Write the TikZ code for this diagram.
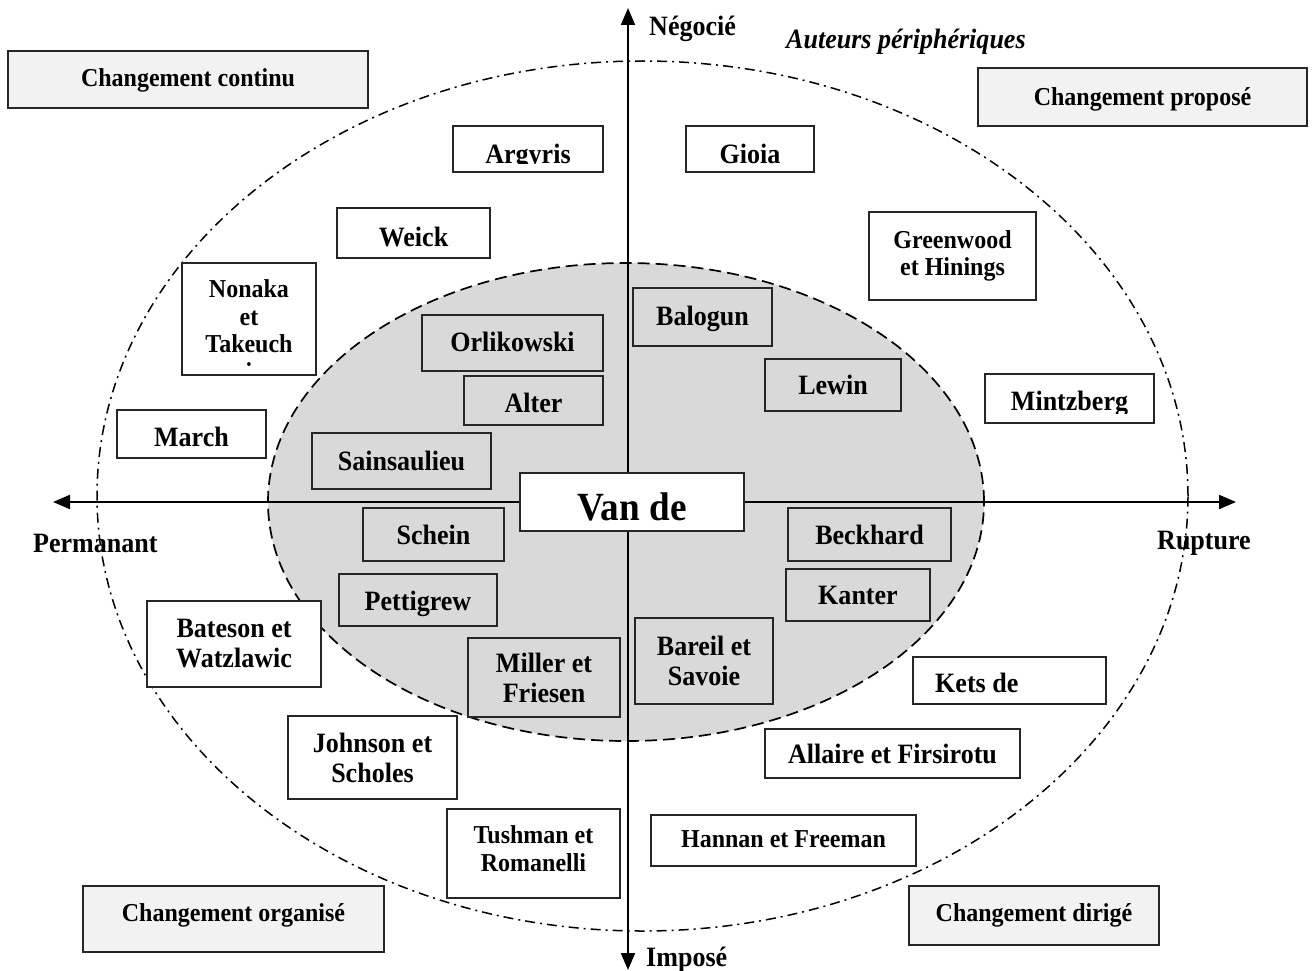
\documentclass[tikz,border=0pt]{standalone}
\usepackage{fontspec}
\setmainfont{Liberation Serif}[FakeStretch=0.93]
\usetikzlibrary{arrows.meta}
\definecolor{boxline}{HTML}{262626}
\definecolor{ingray}{HTML}{D9D9D9}
\definecolor{light}{HTML}{F2F2F2}
\begin{document}
\begin{tikzpicture}[x=1pt,y=-1pt,
  box/.style={draw=boxline, line width=1.6pt, inner sep=0pt, align=center,
    font=\fontsize{28}{30}\selectfont\bfseries},
  wbox/.style={box, fill=white},
  gbox/.style={box, fill=ingray},
  cbox/.style={box, fill=light, font=\fontsize{25.8}{27.5}\selectfont\bfseries},
  small/.style={font=\fontsize{25.8}{27.5}\selectfont\bfseries},
  one/.style={text height=#1, text depth=0pt}, one/.default=18pt,
  sz/.style 2 args={minimum width=#1pt, minimum height=#2pt},
  lab/.style={inner sep=0pt, font=\fontsize{28}{30}\selectfont\bfseries},
  axisline/.style={line width=2pt, black},
  tip/.tip={Triangle[length=17pt,width=14pt]},
  outerline/.style={line width=1.5pt, dash pattern=on 10pt off 5pt on 2pt off 5pt},
  innerline/.style={line width=1.7pt, dash pattern=on 12pt off 6pt}]
\useasboundingbox[fill=white] (0,0) rectangle (1314,971);
% ellipses
\draw[outerline] (642.5,496) ellipse [x radius=545.5pt, y radius=435pt];
\draw[innerline, fill=ingray] (626,502) ellipse [x radius=358pt, y radius=239pt];
% axes
\coordinate (top) at (628,8);
\coordinate (bot) at (628,970);
\coordinate (lft) at (53,502);
\coordinate (rgt) at (1236,502);
\draw[axisline, tip-tip] (bot) -- (top);
\draw[axisline, tip-tip] (lft) -- (rgt);
% corner boxes
\node[cbox, sz={360}{57}, one=15pt] (cc) at (188,79.5) {Changement continu};
\node[cbox, sz={329}{58}, one=18pt] (cp) at (1142.5,97) {Changement propos\'e};
\node[cbox, sz={301}{66}, one=4pt] (co) at (233.5,919) {Changement organis\'e};
\node[cbox, sz={250}{59}, one=11pt] (cd) at (1034,915.5) {Changement dirig\'e};
% peripheral authors
\node[wbox, sz={150}{46}] (argyris) at (528,149) {};
\begin{scope}
  \clip ([yshift=9pt]argyris.south west) rectangle (argyris.north east);
  \node[lab, anchor=base] (argyris-t) at ([yshift=-15pt]argyris.center) {Argyris};
\end{scope}
\node[wbox, sz={128}{46}, one=30pt] (gioia) at (750,149) {Gioia};
\node[wbox, sz={153}{50}, one=26pt] (weick) at (413.5,233) {Weick};
\node[wbox, small, sz={167}{88}] (greenwood) at (952.5,256) {Greenwood\\et Hinings};
\node[wbox, sz={134}{112}] (nonaka) at (249,319) {};
\begin{scope}
  \clip ([yshift=8pt]nonaka.south west) rectangle (nonaka.north east);
  \node[lab, small, align=center, anchor=north] (nonaka-t) at ([yshift=39.5pt]nonaka.center) {Nonaka\\et\\Takeuch\\i};
\end{scope}
\node[wbox, sz={169}{49}] (mintzberg) at (1069.5,398.5) {};
\begin{scope}
  \clip ([yshift=10pt]mintzberg.south west) rectangle (mintzberg.north east);
  \node[lab, anchor=base] (mintzberg-t) at ([yshift=-12pt]mintzberg.center) {Mintzberg};
\end{scope}
\node[wbox, sz={149}{48}, one=24pt] (march) at (191.5,434) {March};
\node[wbox, sz={174}{86}] (bateson) at (234,644) {Bateson et\\Watzlawic};
\node[wbox, sz={169}{83}] (johnson) at (372.5,757.5) {Johnson et\\Scholes};
\node[wbox, small, sz={173}{89}, text depth=10pt] (tushman) at (533.5,853.5) {Tushman et\\Romanelli};
\node[wbox, small, sz={265}{51}, one=13pt] (hannan) at (783.5,840.5) {Hannan et Freeman};
\node[wbox, sz={255}{49}, one=19pt] (allaire) at (892.5,753.5) {Allaire et Firsirotu};
\node[wbox, sz={193}{47}] (kets) at (1009.5,680.5) {};
\node[lab, anchor=base west] (kets-t) at ([xshift=-74.5pt,yshift=-12pt]kets.center) {Kets de};
% core authors
\node[gbox, sz={181}{56}, one=16pt] (orlikowski) at (512.5,343) {Orlikowski};
\node[gbox, sz={139}{49}, one=23pt] (alter) at (533.5,400.5) {Alter};
\node[gbox, sz={179}{56}, one=18pt] (sainsaulieu) at (401.5,461) {Sainsaulieu};
\node[gbox, sz={141}{53}, one=19pt] (schein) at (433.5,534.5) {Schein};
\node[gbox, sz={158}{52}, one=21pt] (pettigrew) at (418,600) {Pettigrew};
\node[gbox, sz={152}{79}] (miller) at (544,677.5) {Miller et\\Friesen};
\node[gbox, sz={138}{86}] (bareil) at (704,661) {Bareil et\\Savoie};
\node[gbox, sz={139}{58}, one=16pt] (balogun) at (702.5,317) {Balogun};
\node[gbox, sz={136}{52}, one=18pt] (lewin) at (833,385) {Lewin};
\node[gbox, sz={163}{53}, one=19pt] (beckhard) at (869.5,534.5) {Beckhard};
\node[gbox, sz={144}{52}, one=18pt] (kanter) at (858,595) {Kanter};
\node[wbox, sz={224}{58}, one=36pt, font=\fontsize{40}{44}\selectfont\bfseries] (vande) at (632,502) {Van de};
% axis labels
\node[lab, anchor=base west] (nego) at (649,36) {N\'egoci\'e};
\node[lab, anchor=base west, font=\fontsize{28}{30}\selectfont\bfseries\itshape] (peri) at (786,49) {Auteurs p\'eriph\'eriques};
\node[lab, anchor=base west] (impose) at (646,966) {Impos\'e};
\node[lab, anchor=base west] (perm) at (33,552) {Permanant};
\node[lab, anchor=base west] (rupt) at (1157,549) {Rupture};
\end{tikzpicture}
\end{document}
